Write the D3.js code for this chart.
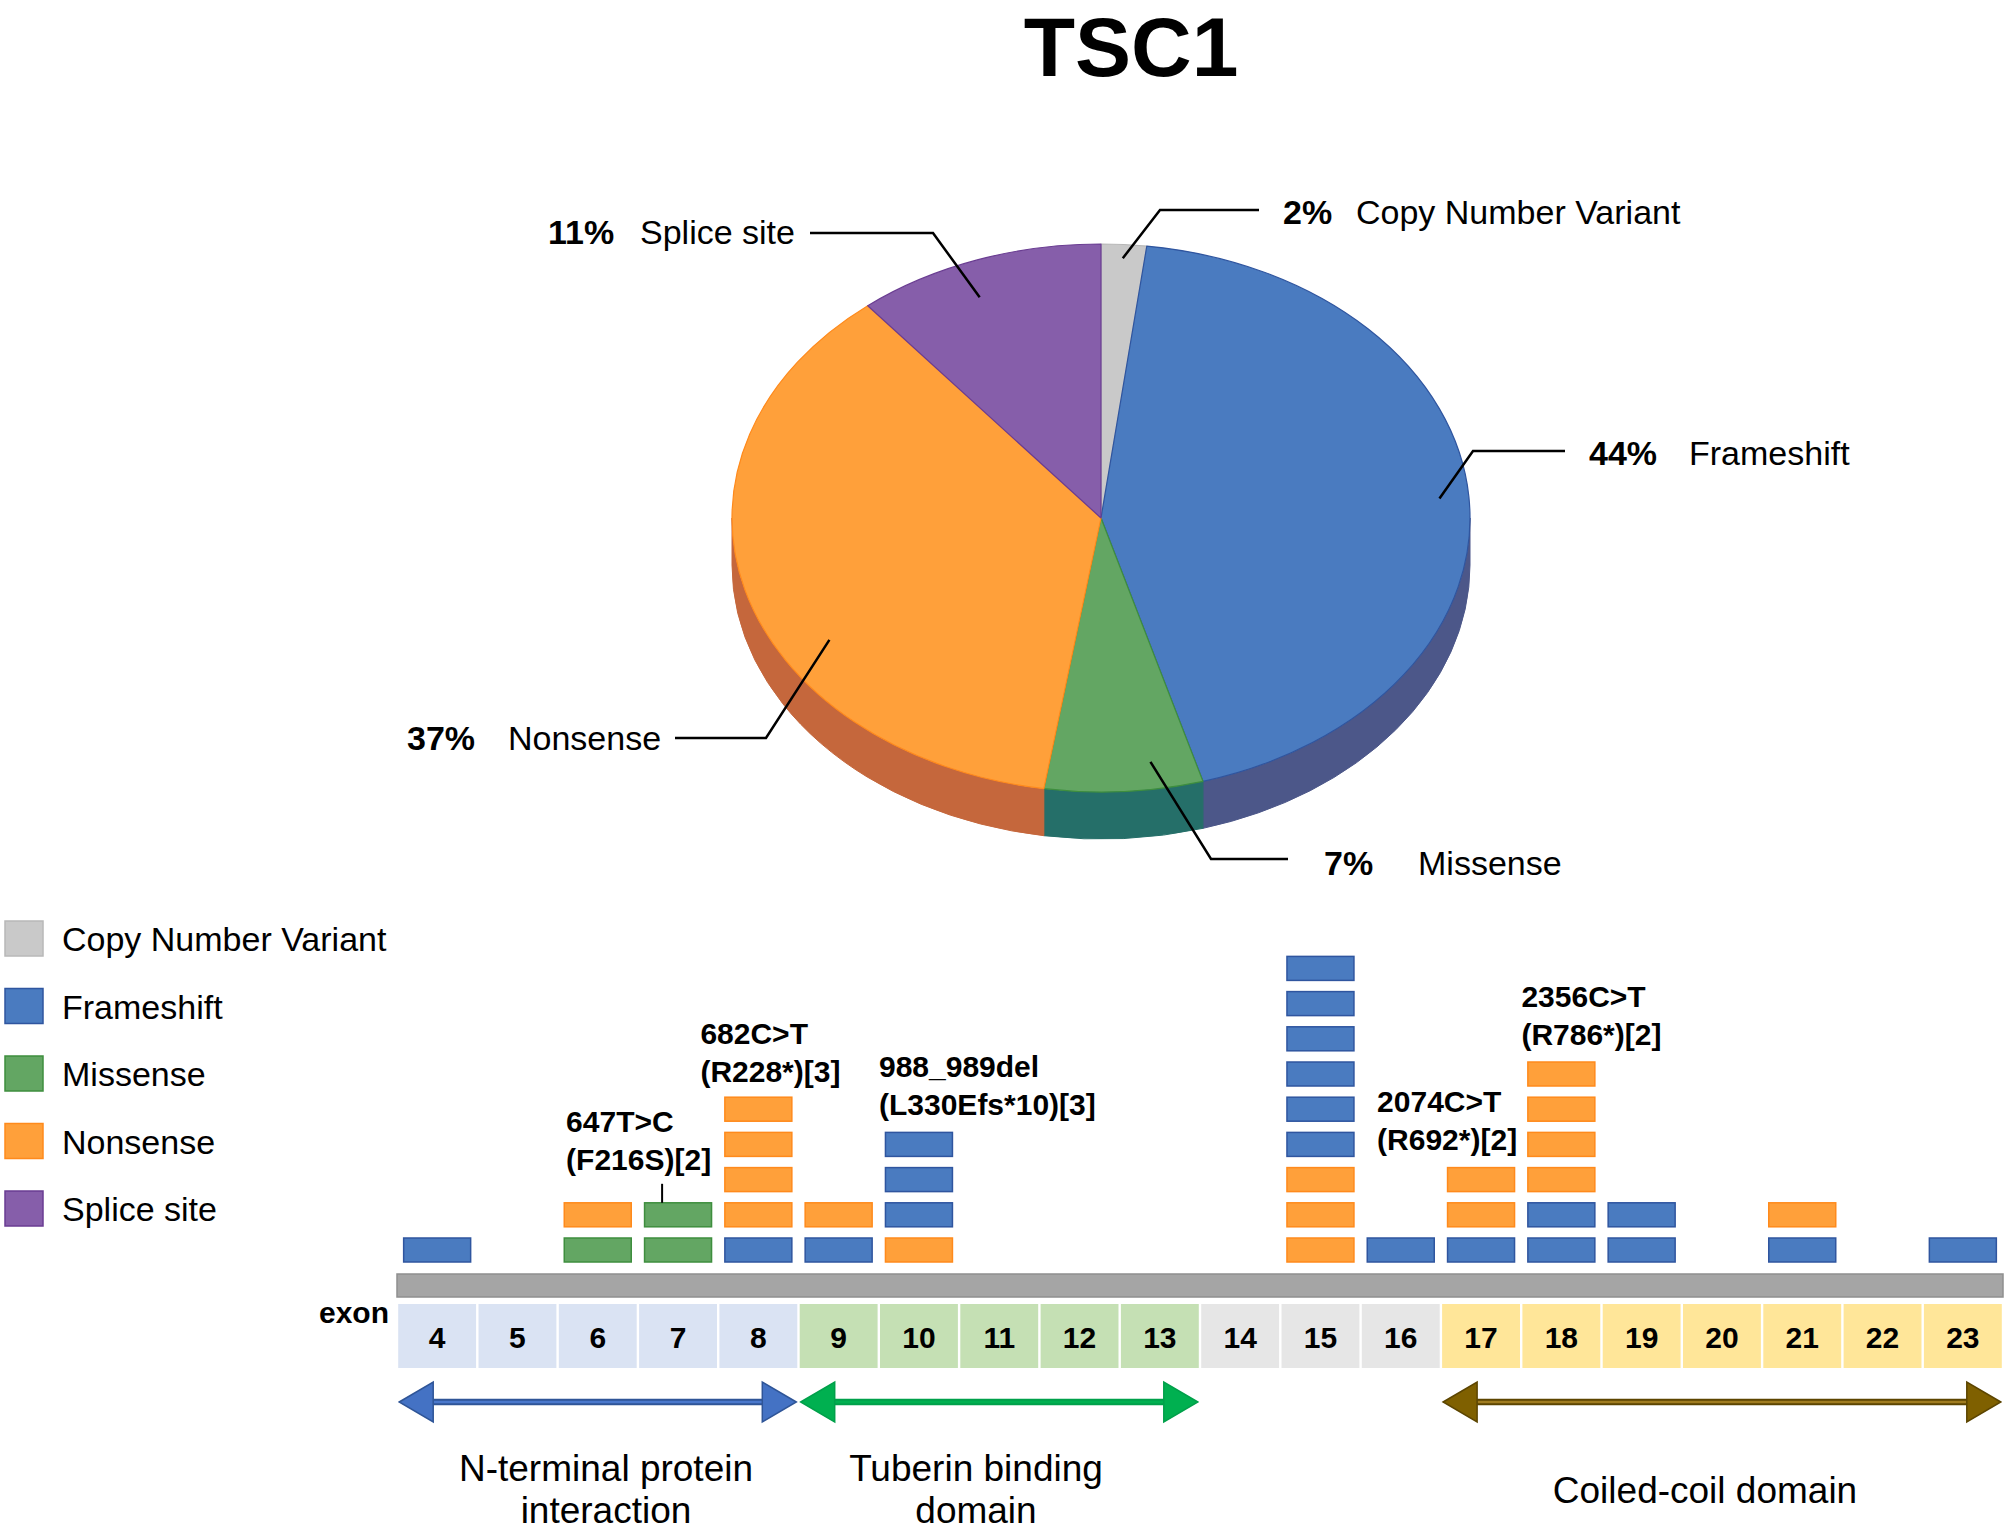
<!DOCTYPE html>
<html>
<head>
<meta charset="utf-8">
<script src="https://cdn.jsdelivr.net/npm/d3@7"></script>
<style>
  body { margin: 0; background: #fff; }
  svg text { font-family: "Liberation Sans", Arial, sans-serif; fill: #000; }
</style>
</head>
<body>
<div id="viz"></div>
<script>

// ---- data ----
var categories = ["Copy Number Variant", "Frameshift", "Missense", "Nonsense", "Splice site"];
var piePercent = [2, 44, 7, 37, 11];

var exons = [4, 5, 6, 7, 8, 9, 10, 11, 12, 13, 14, 15, 16, 17, 18, 19, 20, 21, 22, 23];
// mutations per exon, listed bottom to top (F = Frameshift, N = Nonsense, M = Missense)
var exonStacks = [
    ["F"], [], ["M", "N"], ["M", "M"], ["F", "N", "N", "N", "N"],
    ["F", "N"], ["N", "F", "F", "F"], [], [], [],
    [], ["N", "N", "N", "F", "F", "F", "F", "F", "F"], ["F"], ["F", "N", "N"], ["F", "F", "N", "N", "N", "N"],
    ["F", "F"], [], ["F", "N"], [], ["F"]
];
var hotspotExon = [7, 8, 10, 17, 18];
var hotspotText = [
    ["647T>C", "(F216S)[2]"],
    ["682C>T", "(R228*)[3]"],
    ["988_989del", "(L330Efs*10)[3]"],
    ["2074C>T", "(R692*)[2]"],
    ["2356C>T", "(R786*)[2]"]
];
var domainNames = [["N-terminal protein", "interaction"], ["Tuberin binding", "domain"], ["Coiled-coil domain"]];
var domainStart = [4, 9, 17];
var domainEnd = [8, 13, 23];

// ---- styles / layout ----
var W = 2008, H = 1531;
var topColor = {"Copy Number Variant": "#c9c9c9", "Frameshift": "#4a7bc0", "Missense": "#63a663", "Nonsense": "#ffa03a", "Splice site": "#865eaa"};
var sideColor = {"Copy Number Variant": "#9a9a9a", "Frameshift": "#4c5789", "Missense": "#256f69", "Nonsense": "#c5673c", "Splice site": "#5e3f7c"};
var edgeColor = {"Copy Number Variant": "#b8b8b8", "Frameshift": "#2f559f", "Missense": "#3e8e3e", "Nonsense": "#ff8a1c", "Splice site": "#6a3d92"};
var codeName = {F: "Frameshift", N: "Nonsense", M: "Missense"};
var exonFill = function(e) {
    if (e <= 8) return "#dae3f3";
    if (e <= 13) return "#c5e0b4";
    if (e <= 16) return "#e6e6e6";
    return "#ffe699";
};
var domainColor = [
    {fill: "#4472c4", edge: "#2f5597", core: "#4a78cc"},
    {fill: "#00b050", edge: "#00a04a", core: "#00b050"},
    {fill: "#7f6000", edge: "#5c4500", core: "#a07c20"}
];
var domainTextX = [606, 976, 1705];

// label layout for pie (text x, baseline, elbow and end of leader line, anchor radius/angle shift)
var pieLabelPos = [
    {x: 1283, y: 224, textGap: 73, elbow: [1160, 210], end: [1259, 210], k: 0.95, da: 0},
    {x: 1589, y: 465, textGap: 100, elbow: [1473, 451], end: [1565, 451], k: 0.92, da: 0},
    {x: 1324, y: 875, textGap: 94, elbow: [1211, 859], end: [1288, 859], k: 0.9, da: -5},
    {x: 407, y: 750, textGap: 101, elbow: [766, 738], end: [675, 738], k: 0.86, da: -16},
    {x: 548, y: 244, textGap: 92, elbow: [933, 233], end: [810, 233], k: 0.87, da: -2.6}
];

var svg = d3.select("#viz").append("svg")
    .attr("width", W)
    .attr("height", H);

// title
svg.append("text")
    .attr("x", 1131).attr("y", 76)
    .attr("text-anchor", "middle")
    .style("font-size", "84px").style("font-weight", "bold")
    .text("TSC1");

// ---- 3D pie ----
var cx = 1101, cy = 518, rx = 369, ry = 274, depth = 47;

function ep(a, dy) {
    return [cx + rx * Math.sin(a), cy - ry * Math.cos(a) + (dy || 0)];
}

var pieData = categories.map(function(c, i) { return {name: c, value: piePercent[i]}; });
var arcs = d3.pie().sort(null).value(function(d) { return d.value; })(pieData);

// side walls (front half only)
var gSide = svg.append("g");
arcs.forEach(function(d) {
    var a = Math.max(d.startAngle, Math.PI / 2);
    var b = Math.min(d.endAngle, Math.PI * 1.5);
    if (b <= a) return;
    var p0 = ep(a), p1 = ep(b), q1 = ep(b, depth), q0 = ep(a, depth);
    var path = "M" + p0 + " A" + rx + "," + ry + " 0 0 1 " + p1 +
        " L" + q1 + " A" + rx + "," + ry + " 0 0 0 " + q0 + " Z";
    gSide.append("path")
        .attr("d", path)
        .style("fill", sideColor[d.data.name])
        .style("stroke", sideColor[d.data.name])
        .style("stroke-width", 1);
});

// top faces
var gTop = svg.append("g");
arcs.forEach(function(d) {
    var p0 = ep(d.startAngle), p1 = ep(d.endAngle);
    var large = (d.endAngle - d.startAngle) > Math.PI ? 1 : 0;
    var path = "M" + cx + "," + cy + " L" + p0 + " A" + rx + "," + ry + " 0 " + large + " 1 " + p1 + " Z";
    gTop.append("path")
        .attr("d", path)
        .style("fill", topColor[d.data.name])
        .style("stroke", edgeColor[d.data.name])
        .style("stroke-width", 1.2)
        .style("stroke-linejoin", "round");
});

// pie labels with leader lines
var gLab = svg.append("g");
arcs.forEach(function(d, i) {
    var lp = pieLabelPos[i];
    var mid = (d.startAngle + d.endAngle) / 2 + lp.da * Math.PI / 180;
    var anchor = [cx + lp.k * rx * Math.sin(mid), cy - lp.k * ry * Math.cos(mid)];
    gLab.append("polyline")
        .attr("points", [anchor, lp.elbow, lp.end].join(" "))
        .style("fill", "none")
        .style("stroke", "#000")
        .style("stroke-width", 2.5);
    gLab.append("text")
        .attr("x", lp.x).attr("y", lp.y)
        .style("font-size", "34px").style("font-weight", "bold")
        .text(piePercent[i] + "%");
    gLab.append("text")
        .attr("x", lp.x + lp.textGap).attr("y", lp.y)
        .style("font-size", "34px")
        .text(d.data.name);
});

// ---- legend ----
var gLeg = svg.append("g");
categories.forEach(function(c, i) {
    var y = 921 + i * 67.5;
    gLeg.append("rect")
        .attr("x", 5).attr("y", y)
        .attr("width", 38).attr("height", 35)
        .style("fill", topColor[c])
        .style("stroke", edgeColor[c])
        .style("stroke-width", 1.5);
    gLeg.append("text")
        .attr("x", 62).attr("y", y + 30)
        .style("font-size", "34px")
        .text(c);
});

// ---- exon strip ----
var x = d3.scaleBand().domain(exons).range([397, 2003]).paddingInner(0.03).paddingOuter(0.015);
var levelY = d3.scaleLinear().domain([0, 9]).range([1262, 1262 - 9 * 35.2]);
var barH = 24, barW = x.bandwidth() * 0.86;

svg.append("rect")
    .attr("x", 397).attr("y", 1274)
    .attr("width", 2003 - 397).attr("height", 23)
    .style("fill", "#a5a5a5")
    .style("stroke", "#8f8f8f")
    .style("stroke-width", 1.5);

var gEx = svg.append("g");
exons.forEach(function(e) {
    gEx.append("rect")
        .attr("x", x(e)).attr("y", 1304)
        .attr("width", x.bandwidth()).attr("height", 64)
        .style("fill", exonFill(e));
    gEx.append("text")
        .attr("x", x(e) + x.bandwidth() / 2).attr("y", 1348)
        .attr("text-anchor", "middle")
        .style("font-size", "30px").style("font-weight", "bold")
        .text(e);
});
svg.append("text")
    .attr("x", 389).attr("y", 1323)
    .attr("text-anchor", "end")
    .style("font-size", "30px").style("font-weight", "bold")
    .text("exon");

// mutation stacks
var gBars = svg.append("g");
exons.forEach(function(e, i) {
    exonStacks[i].forEach(function(code, lvl) {
        var name = codeName[code];
        gBars.append("rect")
            .attr("x", x(e) + (x.bandwidth() - barW) / 2)
            .attr("y", levelY(lvl) - barH)
            .attr("width", barW).attr("height", barH)
            .style("fill", topColor[name])
            .style("stroke", edgeColor[name])
            .style("stroke-width", 1.5);
    });
});

// hotspot annotations
var hotDx = [-73, -19, -1, -65, -1];
var hotGap = [33, 15, 17, 18, 17];
var gHot = svg.append("g");
hotspotExon.forEach(function(e, i) {
    var n = exonStacks[exons.indexOf(e)].length;
    var top = levelY(n - 1) - barH;
    var base2 = top - hotGap[i];
    var tx = x(e) + hotDx[i];
    gHot.append("text").attr("x", tx).attr("y", base2 - 38)
        .style("font-size", "30px").style("font-weight", "bold")
        .text(hotspotText[i][0]);
    gHot.append("text").attr("x", tx).attr("y", base2)
        .style("font-size", "30px").style("font-weight", "bold")
        .text(hotspotText[i][1]);
    if (hotGap[i] > 25) {
        gHot.append("line")
            .attr("x1", x(e) + 23).attr("x2", x(e) + 23)
            .attr("y1", top - 19).attr("y2", top)
            .style("stroke", "#000").style("stroke-width", 2);
    }
});

// ---- domain arrows ----
var gDom = svg.append("g");
var ay = 1402, headL = 34, headH = 20;
domainNames.forEach(function(names, i) {
    var x0 = x(domainStart[i]) + 1, x1 = x(domainEnd[i]) + x.bandwidth() - 1;
    var col = domainColor[i];
    gDom.append("line")
        .attr("x1", x0 + headL).attr("x2", x1 - headL)
        .attr("y1", ay).attr("y2", ay)
        .style("stroke", col.edge).style("stroke-width", 6.5);
    gDom.append("line")
        .attr("x1", x0 + headL).attr("x2", x1 - headL)
        .attr("y1", ay).attr("y2", ay)
        .style("stroke", col.core).style("stroke-width", 2.5);
    [[x0, x0 + headL], [x1, x1 - headL]].forEach(function(h) {
        gDom.append("path")
            .attr("d", "M" + h[0] + "," + ay + " L" + h[1] + "," + (ay - headH) + " L" + h[1] + "," + (ay + headH) + " Z")
            .style("fill", col.fill)
            .style("stroke", col.edge)
            .style("stroke-width", 1.5);
    });
    var y0 = names.length > 1 ? 1481 : 1503;
    names.forEach(function(t, j) {
        gDom.append("text")
            .attr("x", domainTextX[i]).attr("y", y0 + j * 42)
            .attr("text-anchor", "middle")
            .style("font-size", "37px")
            .text(t);
    });
});

</script>
</body>
</html>
